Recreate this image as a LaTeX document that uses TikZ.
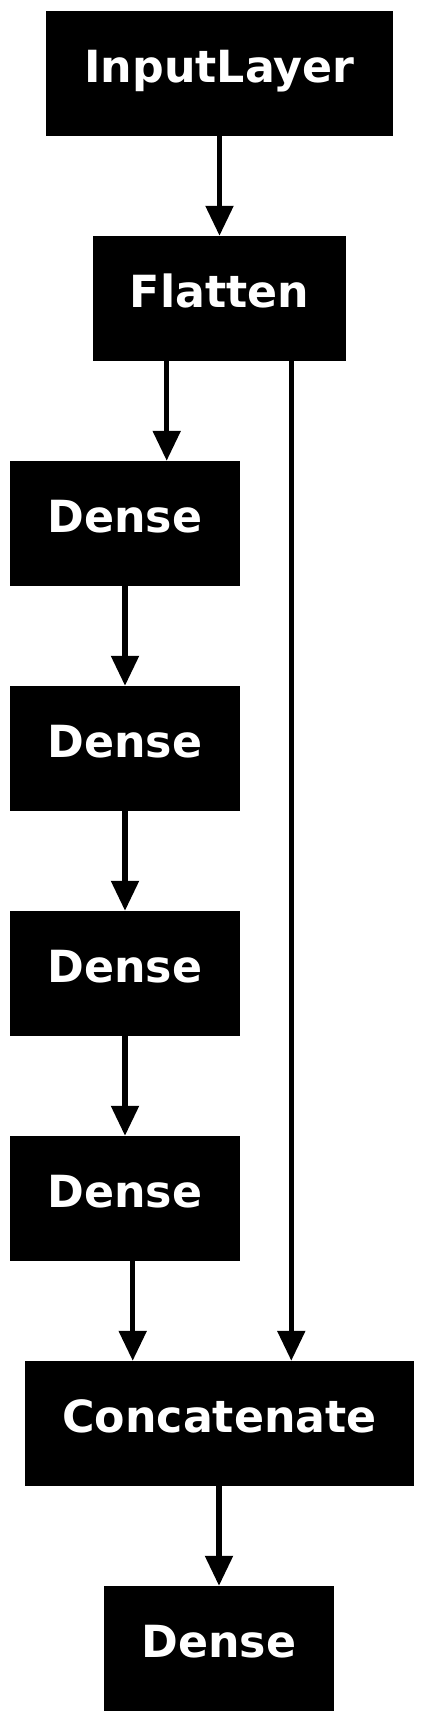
\documentclass[tikz,border=0pt]{standalone}
\usepackage{fontspec}
\setmainfont{DejaVu Sans}
\usepackage{tikz}
\usetikzlibrary{arrows.meta}
\tikzset{layer/.style={fill=black, text=white, inner sep=0pt,
         font=\fontsize{44.3pt}{50pt}\selectfont\bfseries,
         minimum width=#1, minimum height=125pt,
         text height=32pt, text depth=15pt},
         link/.style={line width=5.3pt, -{Triangle[length=30pt,width=27pt]}}}

\begin{document}
\begin{tikzpicture}
\useasboundingbox (0,0) rectangle (424pt,-1722pt);
\node[layer=347pt] (input) at (219.5pt,-73.5pt) {InputLayer};
\node[layer=253pt] (flatten) at (219.5pt,-298.5pt) {Flatten};
\node[layer=230pt] (dense1) at (125pt,-523.5pt) {Dense};
\node[layer=230pt] (dense2) at (125pt,-748.5pt) {Dense};
\node[layer=230pt] (dense3) at (125pt,-973.5pt) {Dense};
\node[layer=230pt] (dense4) at (125pt,-1198.5pt) {Dense};
\node[layer=389pt] (concat) at (219.5pt,-1423.5pt) {Concatenate};
\node[layer=230pt] (output) at (219pt,-1648.5pt) {Dense};
\draw[link] (input) -- (flatten);
\draw[link] ([xshift=-52.8pt]flatten.south) -- ([xshift=41.7pt]dense1.north);
\draw[link] ([xshift=71.8pt]flatten.south) -- ([xshift=71.8pt]concat.north);
\draw[link] (dense1) -- (dense2);
\draw[link] (dense2) -- (dense3);
\draw[link] (dense3) -- (dense4);
\draw[link] ([xshift=7.7pt]dense4.south) -- ([xshift=-86.8pt]concat.north);
\draw[link] ([xshift=-0.5pt]concat.south) -- (output);
\end{tikzpicture}
\end{document}
